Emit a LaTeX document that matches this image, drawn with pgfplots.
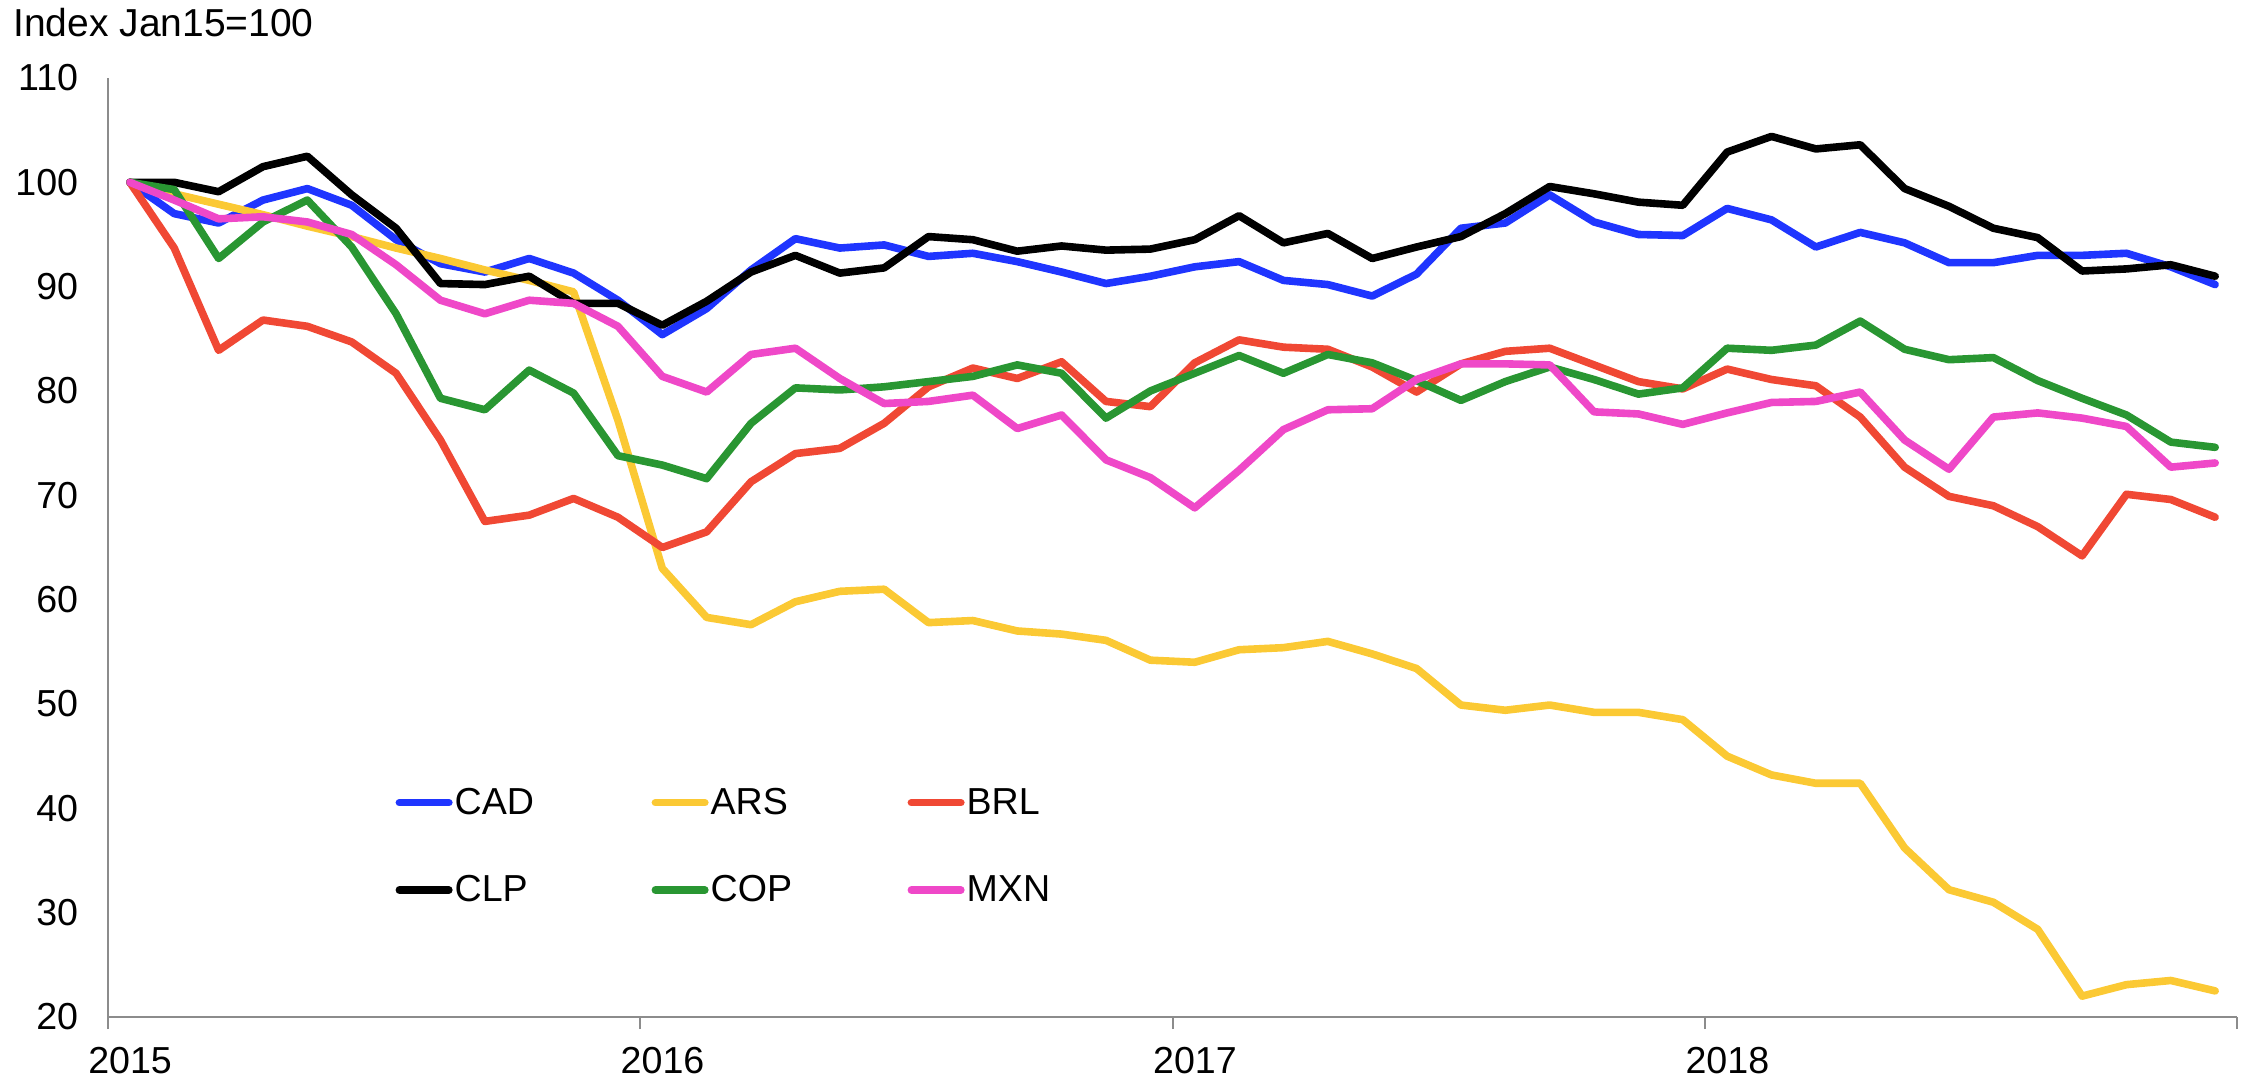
\documentclass[border=0pt]{standalone}
\usepackage{fontspec}
\setmainfont{Liberation Sans}
\usepackage{pgfplots}
\usepackage{pgfplotstable}
\pgfplotsset{compat=1.18}
\definecolor{cCAD}{RGB}{31,53,255}
\definecolor{cARS}{RGB}{251,201,52}
\definecolor{cBRL}{RGB}{240,72,52}
\definecolor{cCLP}{RGB}{0,0,0}
\definecolor{cCOP}{RGB}{41,150,50}
\definecolor{cMXN}{RGB}{239,72,200}
\definecolor{axgray}{RGB}{140,140,140}
\pgfplotstableread{
x CAD ARS BRL CLP COP MXN
0.5 100 100 100 100 100 100
1.5 97.0 98.9 93.7 100.0 99.3 98.3
2.5 96.1 97.9 83.9 99.1 92.7 96.5
3.5 98.3 96.9 86.8 101.5 96.2 96.7
4.5 99.4 95.8 86.2 102.5 98.3 96.2
5.5 97.8 94.8 84.7 98.8 93.8 95.0
6.5 94.5 93.7 81.7 95.6 87.4 92.1
7.5 92.2 92.7 75.3 90.3 79.3 88.7
8.5 91.4 91.6 67.5 90.2 78.2 87.4
9.5 92.7 90.6 68.1 91.0 82.0 88.7
10.5 91.3 89.5 69.7 88.4 79.8 88.4
11.5 88.7 77.2 67.9 88.4 73.8 86.2
12.5 85.4 63.0 65.0 86.3 72.9 81.4
13.5 87.9 58.3 66.5 88.6 71.6 79.9
14.5 91.6 57.6 71.3 91.4 76.9 83.5
15.5 94.6 59.8 74.0 93.0 80.3 84.1
16.5 93.7 60.8 74.5 91.3 80.1 81.2
17.5 94.0 61.0 76.9 91.8 80.4 78.8
18.5 92.9 57.8 80.4 94.8 80.9 79.0
19.5 93.2 58.0 82.2 94.5 81.4 79.6
20.5 92.4 57.0 81.2 93.4 82.5 76.4
21.5 91.4 56.7 82.8 93.9 81.7 77.7
22.5 90.3 56.1 79.0 93.5 77.4 73.4
23.5 91.0 54.2 78.5 93.6 80.0 71.7
24.5 91.9 54.0 82.7 94.5 81.7 68.8
25.5 92.4 55.2 84.9 96.8 83.4 72.4
26.5 90.6 55.4 84.2 94.2 81.7 76.3
27.5 90.2 56.0 84.0 95.1 83.5 78.2
28.5 89.1 54.8 82.3 92.7 82.7 78.3
29.5 91.2 53.4 79.9 93.8 81.0 81.1
30.5 95.6 49.9 82.6 94.8 79.1 82.6
31.5 96.1 49.4 83.8 97.0 80.9 82.6
32.5 98.8 49.9 84.1 99.6 82.3 82.5
33.5 96.2 49.2 82.5 98.9 81.1 78.0
34.5 95.0 49.2 80.9 98.1 79.7 77.8
35.5 94.9 48.5 80.2 97.8 80.3 76.8
36.5 97.5 45.0 82.1 102.9 84.1 77.9
37.5 96.4 43.2 81.1 104.4 83.9 78.9
38.5 93.8 42.4 80.5 103.2 84.4 79.0
39.5 95.2 42.4 77.5 103.6 86.7 79.9
40.5 94.2 36.2 72.7 99.4 84.0 75.3
41.5 92.3 32.2 69.9 97.7 83.0 72.5
42.5 92.3 31.0 69.0 95.6 83.2 77.5
43.5 93.0 28.4 67.0 94.7 81.0 77.9
44.5 93.0 22.0 64.2 91.5 79.3 77.4
45.5 93.2 23.1 70.1 91.7 77.7 76.6
46.5 91.9 23.5 69.6 92.1 75.1 72.7
47.5 90.2 22.5 67.9 91.0 74.6 73.1
}\data
\begin{document}
\begin{tikzpicture}
\useasboundingbox (0bp,0bp) rectangle (1126bp,539bp);
\begin{axis}[
  at={(53.85bp,30.5bp)}, anchor=south west,
  scale only axis, width=1064.9bp, height=469.5bp,
  xmin=0, xmax=48, ymin=20, ymax=110,
  axis lines*=left,
  axis line style={draw=axgray, line width=1bp},
  xtick={0,12,24,36,48},
  xticklabels={2015,2016,2017,2018,},
  ytick={20,30,...,110},
  tick align=outside,
  major tick length=6bp,
  xtick style={draw=axgray, line width=1bp},
  ytick style={draw=none},
  /pgf/number format/assume math mode=true,
  tick label style={font=\fontsize{18.8bp}{20bp}\selectfont, inner sep=0pt},
  yticklabel style={xshift=-8.6bp},
  xticklabel style={xshift=11.2bp, yshift=-9bp},
  every axis plot/.append style={line width=3.8bp, line join=round, line cap=round},
  legend columns=3,
  legend style={at={(axis description cs:0.1352,0.2448)}, anchor=north west,
    draw=none, fill=none, inner sep=0pt, outer sep=0pt,
    row sep=30.2bp,
    cells={anchor=west},
    nodes={inner sep=0pt, text width=98.5bp, text height=13.5bp, text depth=0pt,
      font=\fontsize{18.8bp}{20bp}\selectfont},
    /tikz/every odd column/.append style={column sep=1bp}},
  legend image code/.code={\draw[#1, line width=3.7bp] (1.85bp,-1bp) -- (26.65bp,-1bp);},
]
\addplot[cCAD] table[x=x,y=CAD]{\data};
\addlegendentry{CAD}
\addplot[cARS] table[x=x,y=ARS]{\data};
\addlegendentry{ARS}
\addplot[cBRL] table[x=x,y=BRL]{\data};
\addlegendentry{BRL}
\addplot[cCLP] table[x=x,y=CLP]{\data};
\addlegendentry{CLP}
\addplot[cCOP] table[x=x,y=COP]{\data};
\addlegendentry{COP}
\addplot[cMXN] table[x=x,y=MXN]{\data};
\addlegendentry{MXN}
\end{axis}
\node[anchor=base west, inner sep=0pt, font=\fontsize{19.5bp}{21bp}\selectfont] at (6.5bp,520.6bp) {Index Jan15=100};
\end{tikzpicture}
\end{document}
